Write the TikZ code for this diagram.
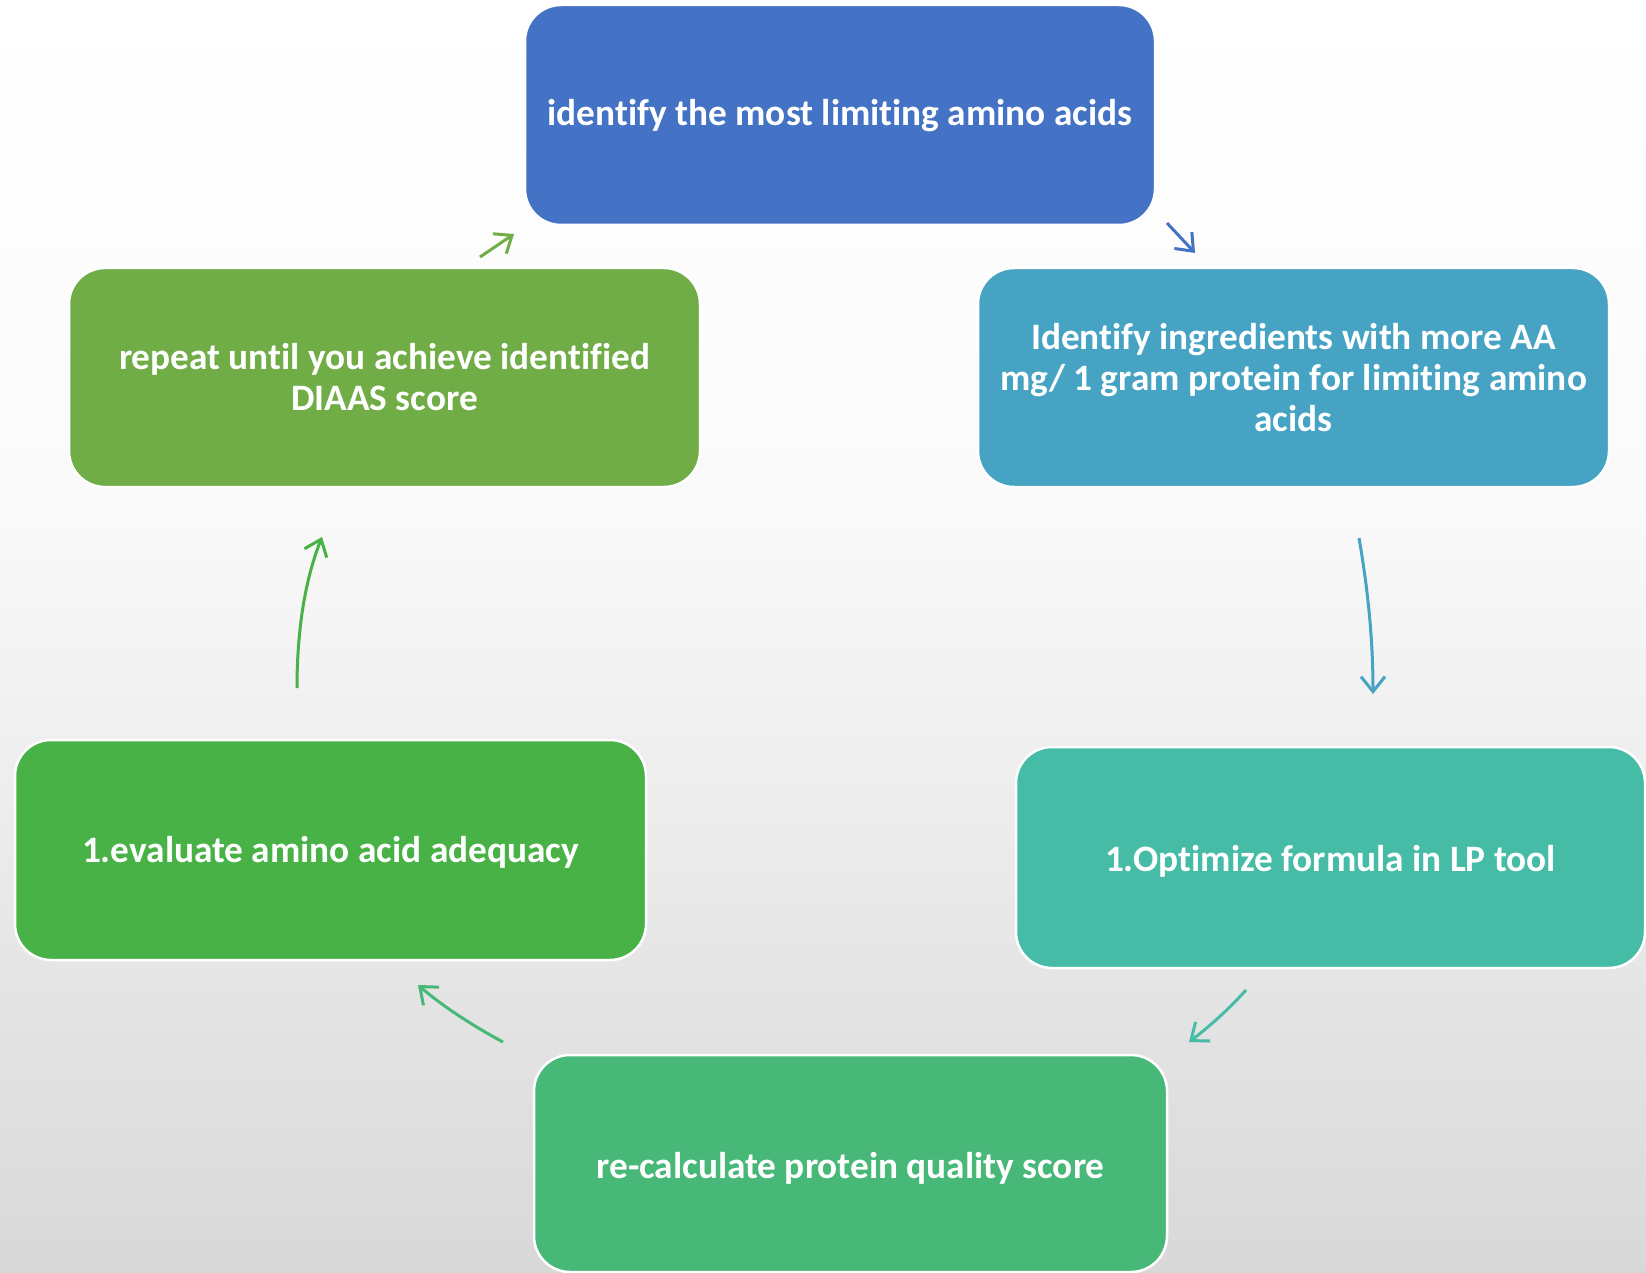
\documentclass[tikz,border=0pt]{standalone}
\usepackage{fontspec}
\setmainfont{Carlito}[Ligatures={NoCommon}]
\usetikzlibrary{arrows.meta}
\definecolor{cBlue}{HTML}{4472C4}
\definecolor{cCyan}{HTML}{46A3C4}
\definecolor{cOlive}{HTML}{70AD47}
\definecolor{cGreen}{HTML}{48B247}
\definecolor{cTeal}{HTML}{46BCA7}
\definecolor{cSea}{HTML}{47B878}
\definecolor{bgA}{HTML}{FAFAFA}
\definecolor{bgB}{HTML}{D8D8D8}
\newcommand{\lowr}[2]{\raisebox{-#1}[\height][\depth]{#2}}
\tikzset{
  stepbox/.style={rectangle, rounded corners=36pt, draw=white, line width=2.5pt,
    text=white, align=center, inner sep=0pt,
    font=\bfseries\fontsize{37.3}{41}\selectfont},
  flow/.style={line width=3pt, -{Straight Barb[length=15pt,width=24pt,line width=3pt]}}
}
\begin{document}
\begin{tikzpicture}[x=1pt,y=-1pt]
\useasboundingbox (0,0) rectangle (1646,1273);
\shade[top color=white, bottom color=bgA] (0,0) rectangle (1646,501);
\shade[top color=bgA, bottom color=bgB] (0,500) rectangle (1646,1273);

\node[stepbox, fill=cBlue, minimum width=630pt, minimum height=220pt] (b1) at (840,115) {\lowr{1pt}{identify the most limiting amino acids}};
\node[stepbox, fill=cCyan, minimum width=631pt, minimum height=219pt] (b2) at (1293.5,377.5) {Identify ingredients with more AA\\mg/ 1 gram protein for limiting amino\\acids};
\node[stepbox, fill=cOlive, minimum width=631pt, minimum height=219pt] (b3) at (384.5,377.5) {repeat until you achieve identified\\DIAAS score};
\node[stepbox, fill=cGreen, minimum width=631pt, minimum height=220pt] (b4) at (330.5,850) {\lowr{2pt}{1.evaluate amino acid adequacy}};
\node[stepbox, fill=cTeal, minimum width=629pt, minimum height=221pt] (b5) at (1330.5,857.5) {\lowr{4pt}{1.Optimize formula in LP tool}};
\node[stepbox, fill=cSea, minimum width=633pt, minimum height=217pt] (b6) at (850.5,1163.5) {\lowr{5pt}{re-calculate protein quality score}};

\coordinate (a1s) at (480,257); \coordinate (a1e) at (514,234);
\coordinate (a2s) at (1167,223); \coordinate (a2e) at (1195,253);
\coordinate (a3s) at (1359,538); \coordinate (a3e) at (1373,694);
\coordinate (a4s) at (1246,990); \coordinate (a4e) at (1189,1042);
\coordinate (a5s) at (503,1042); \coordinate (a5e) at (418,985);
\coordinate (a6s) at (297,688); \coordinate (a6e) at (322,537);

\draw[flow, cOlive] (a1s) -- (a1e);
\draw[flow, cBlue] (a2s) -- (a2e);
\draw[flow, cCyan] (a3s) .. controls (1368,590) and (1373,640) .. (a3e);
\draw[flow, cTeal] (a4s) .. controls (1228,1010) and (1210,1026) .. (a4e);
\draw[flow, cSea] (a5s) .. controls (475,1027) and (445,1008) .. (a5e);
\draw[flow, cGreen] (a6s) .. controls (297,630) and (305,580) .. (a6e);
\end{tikzpicture}
\end{document}
